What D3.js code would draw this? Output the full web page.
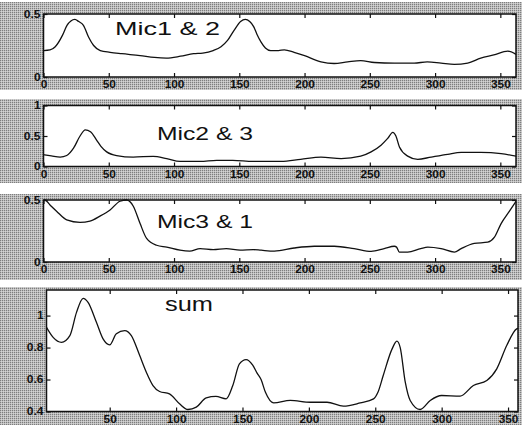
<!DOCTYPE html>
<html>
<head>
<meta charset="utf-8">
<script src="https://cdn.jsdelivr.net/npm/d3@7"></script>
<style>
  body { margin: 0; background: #fff; }
  svg text { font-family: "Liberation Sans", Arial, sans-serif; }
</style>
</head>
<body>
<svg id="chart" width="522" height="425"></svg>
<script>
// curves: [angle in degrees, value]
const mic12 = [[0,0.21],[5,0.215],[9,0.24],[14.5,0.33],[18,0.41],[21,0.445],[24,0.457],[27,0.44],[30.6,0.41],[34.5,0.317],[38.4,0.25],[43.5,0.21],[51,0.196],[60,0.185],[74,0.17],[85,0.155],[94,0.15],[105,0.165],[115,0.185],[122,0.19],[130,0.21],[136,0.24],[141,0.29],[146,0.37],[151,0.44],[154.6,0.457],[158,0.44],[161,0.4],[163.5,0.34],[166.7,0.277],[170,0.23],[174,0.21],[180,0.21],[184.5,0.215],[192,0.196],[200,0.17],[212.6,0.12],[222.6,0.107],[233,0.12],[243,0.13],[253.5,0.115],[268.8,0.11],[284,0.11],[294,0.12],[304.6,0.11],[314.7,0.1],[325,0.11],[335,0.15],[345,0.175],[355.7,0.205],[362,0.18]];

const mic23 = [[0,0.195],[6,0.175],[12.8,0.155],[17.8,0.18],[23,0.3],[28,0.5],[32,0.6],[36,0.57],[40.8,0.43],[44,0.33],[48.4,0.24],[56,0.18],[68.7,0.155],[84,0.167],[94.4,0.13],[104.6,0.083],[120,0.083],[132.7,0.1],[145,0.1],[160.6,0.083],[182,0.083],[197,0.117],[212.6,0.155],[228,0.13],[243,0.17],[251,0.24],[258.6,0.35],[263.7,0.46],[267.6,0.56],[270,0.5],[272.7,0.32],[279,0.17],[286.7,0.117],[297,0.155],[309.7,0.2],[320,0.23],[335,0.23],[350.6,0.21],[362,0.17]];

const mic31 = [[0,0.5],[1.1,0.5],[5,0.46],[10,0.41],[17.8,0.34],[28,0.32],[35.6,0.33],[43.3,0.37],[51,0.42],[58.6,0.49],[63.8,0.5],[68.8,0.45],[74,0.31],[79,0.19],[86.7,0.135],[94.4,0.12],[104.6,0.095],[112,0.088],[120,0.108],[130,0.1],[140,0.108],[150.6,0.095],[160.8,0.1],[166.7,0.095],[176.9,0.088],[192,0.113],[207.5,0.127],[222.8,0.127],[238,0.108],[251,0.086],[261,0.108],[268.8,0.127],[270.5,0.12],[272.6,0.08],[279,0.08],[289,0.108],[294.4,0.12],[304.6,0.108],[314.8,0.08],[320,0.108],[330,0.15],[340.4,0.16],[345.5,0.2],[350.6,0.31],[357,0.41],[362,0.49]];

const sumCurve = [[2.4,0.927],[7.4,0.864],[13.7,0.833],[20,0.875],[25,1.02],[30,1.108],[33.7,1.083],[40,0.958],[45,0.854],[50,0.817],[55,0.886],[61.3,0.906],[66.3,0.875],[72.6,0.75],[77.6,0.646],[82.6,0.5625],[87.6,0.525],[95,0.51],[102.6,0.448],[108.9,0.4125],[115.2,0.427],[122.7,0.485],[130,0.494],[137.7,0.479],[142.7,0.5625],[147.7,0.698],[152.7,0.725],[157.7,0.69],[161,0.64],[164,0.6],[167.3,0.52],[173.5,0.454],[186,0.469],[201,0.458],[213.7,0.458],[226,0.433],[238.7,0.454],[248.7,0.479],[252,0.52],[256,0.625],[262.6,0.79],[266.3,0.84],[268.8,0.8],[272.6,0.583],[276.3,0.469],[283.8,0.4125],[291.4,0.469],[300,0.5],[313.9,0.496],[323.9,0.5625],[334,0.594],[341.5,0.667],[349,0.8125],[356.5,0.917],[357.5,0.92]];

// tick values
const xTicks = [0, 50, 100, 150, 200, 250, 300, 350];
const yTicksHalf = [0, 0.5];
const yTicksOne = [0, 0.5, 1];
const yTicksSum = [0.4, 0.6, 0.8, 1];

// panel layout (pixels)
const panels = [
  { title: "Mic1 & 2", data: mic12, xDomain: [0, 362], yDomain: [0, 0.5], yTicks: yTicksHalf,
    box: { left: 43.5, right: 516, top: 14, bottom: 77 }, band: [2, 90], label: { x: 115, y: 35, w: 105, size: 18 } },
  { title: "Mic2 & 3", data: mic23, xDomain: [0, 362], yDomain: [0, 1], yTicks: yTicksOne,
    box: { left: 43.5, right: 516, top: 105.5, bottom: 166.5 }, band: [99, 183], label: { x: 157, y: 140, w: 96, size: 18 } },
  { title: "Mic3 & 1", data: mic31, xDomain: [0, 362], yDomain: [0, 0.5], yTicks: yTicksHalf,
    box: { left: 43.5, right: 516, top: 200, bottom: 262 }, band: [194, 280], label: { x: 157, y: 228, w: 96, size: 18 } },
  { title: "sum", data: sumCurve, xDomain: [2.4, 357.5], yDomain: [0.4, 1.16], yTicks: yTicksSum,
    box: { left: 46.5, right: 518, top: 290, bottom: 411.5 }, band: [287, 425], label: { x: 165, y: 311, w: 48, size: 21 } }
];

const svg = d3.select("#chart");

// dithered grey like the scanned figure
const defs = svg.append("defs");
const pat = defs.append("pattern")
  .attr("id", "dither")
  .attr("width", 2).attr("height", 2)
  .attr("patternUnits", "userSpaceOnUse");
pat.append("rect").attr("width", 2).attr("height", 2).attr("fill", "#bdbdbd");
pat.append("rect").attr("width", 1).attr("height", 1).attr("fill", "#7e7e7e");
pat.append("rect").attr("x", 1).attr("y", 1).attr("width", 1).attr("height", 1).attr("fill", "#d4d4d4");

// rough width of a tick label, the scan is stretched sideways
const labelWidth = s => s.split("").reduce((a, c) => a + (c === "." ? 3.5 : 6.6), 0);

function styleLabels(g) {
  g.select(".domain").remove();
  g.selectAll("text")
    .attr("font-family", "'Liberation Sans', Arial, sans-serif")
    .attr("font-size", 10.5)
    .attr("font-weight", "bold")
    .attr("fill", "#111")
    .attr("textLength", function() { return labelWidth(d3.select(this).text()); })
    .attr("lengthAdjust", "spacingAndGlyphs");
  g.selectAll("line").attr("stroke", "#111").attr("stroke-width", 1.2);
}

panels.forEach((p, i) => {
  const b = p.box;
  svg.append("rect")
    .attr("x", 0).attr("y", p.band[0])
    .attr("width", 522).attr("height", p.band[1] - p.band[0])
    .attr("fill", "url(#dither)");

  const x = d3.scaleLinear().domain(p.xDomain).range([b.left, b.right]);
  const y = d3.scaleLinear().domain(p.yDomain).range([b.bottom, b.top]);

  svg.append("rect")
    .attr("x", b.left).attr("y", b.top)
    .attr("width", b.right - b.left).attr("height", b.bottom - b.top)
    .attr("fill", "#fff");

  svg.append("clipPath").attr("id", "clip" + i)
    .append("rect")
    .attr("x", b.left).attr("y", b.top - 1)
    .attr("width", b.right - b.left).attr("height", b.bottom - b.top + 2);

  const ticks = xTicks.filter(t => t >= p.xDomain[0] && t <= p.xDomain[1]);

  // ticks point inward on all four sides
  svg.append("g")
    .attr("transform", `translate(0,${b.bottom})`)
    .call(d3.axisBottom(x).tickValues(ticks).tickSizeInner(-4).tickSizeOuter(0).tickPadding(4))
    .call(styleLabels);
  svg.append("g")
    .attr("transform", `translate(0,${b.top})`)
    .call(d3.axisTop(x).tickValues(ticks).tickSizeInner(-4).tickSizeOuter(0).tickFormat(""))
    .call(styleLabels);
  svg.append("g")
    .attr("transform", `translate(${b.left},0)`)
    .call(d3.axisLeft(y).tickValues(p.yTicks).tickSizeInner(-4).tickSizeOuter(0).tickPadding(3).tickFormat(d3.format("~g")))
    .call(styleLabels);
  svg.append("g")
    .attr("transform", `translate(${b.right},0)`)
    .call(d3.axisRight(y).tickValues(p.yTicks).tickSizeInner(-4).tickSizeOuter(0).tickFormat(""))
    .call(styleLabels);

  const line = d3.line()
    .x(d => x(d[0]))
    .y(d => y(d[1]))
    .curve(d3.curveMonotoneX);

  svg.append("path")
    .datum(p.data)
    .attr("clip-path", `url(#clip${i})`)
    .attr("fill", "none")
    .attr("stroke", "#111")
    .attr("stroke-width", 1.3)
    .attr("d", line);

  svg.append("rect")
    .attr("x", b.left).attr("y", b.top)
    .attr("width", b.right - b.left).attr("height", b.bottom - b.top)
    .attr("fill", "none")
    .attr("stroke", "#111")
    .attr("stroke-width", 1.5);

  svg.append("text")
    .attr("x", p.label.x).attr("y", p.label.y)
    .attr("font-size", p.label.size)
    .attr("fill", "#111")
    .attr("textLength", p.label.w)
    .attr("lengthAdjust", "spacingAndGlyphs")
    .text(p.title);
});
</script>
</body>
</html>
